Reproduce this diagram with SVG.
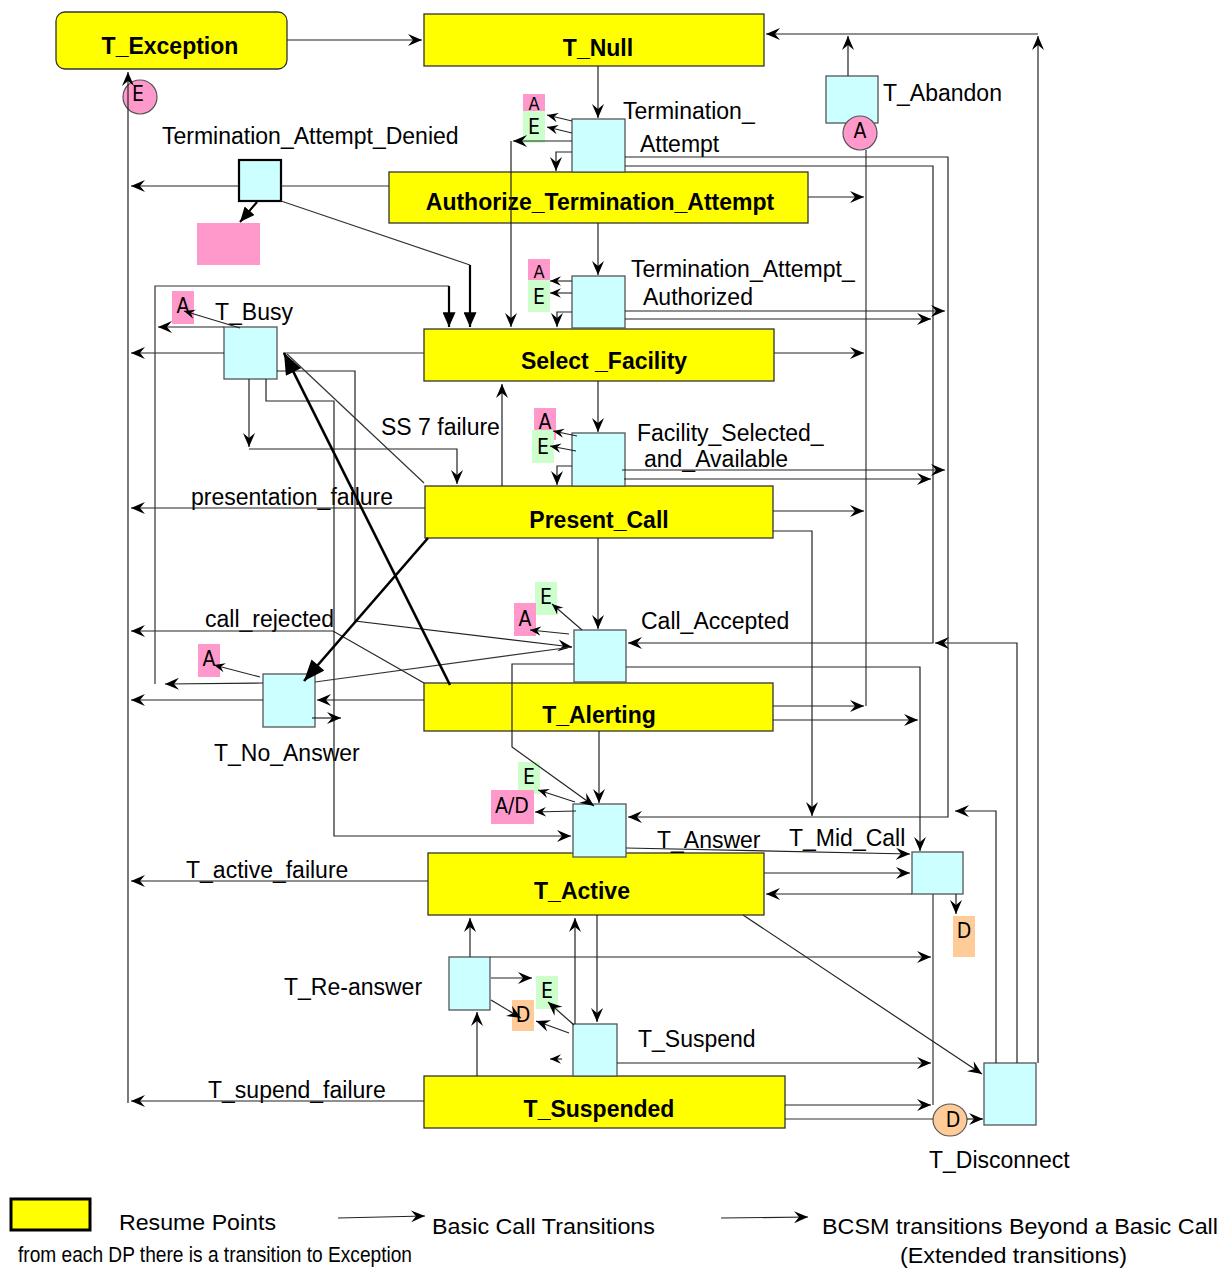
<svg xmlns="http://www.w3.org/2000/svg" width="1221" height="1268" viewBox="0 0 1221 1268">
<defs>
<marker id="ah" viewBox="0 0 14 14" refX="14" refY="7" markerWidth="14" markerHeight="14" markerUnits="userSpaceOnUse" orient="auto"><path d="M0,1 L14,7 L0,13 L5,7 z" fill="#000"/></marker>
<marker id="sm" viewBox="0 0 14 14" refX="14" refY="7" markerWidth="11" markerHeight="11" markerUnits="userSpaceOnUse" orient="auto"><path d="M0,1 L14,7 L0,13 L5,7 z" fill="#000"/></marker>
<marker id="big" viewBox="0 0 20 16" refX="20" refY="8" markerWidth="22" markerHeight="17" markerUnits="userSpaceOnUse" orient="auto"><path d="M0,0 L20,8 L0,16 z" fill="#000"/></marker>
<marker id="mid" viewBox="0 0 16 14" refX="16" refY="7" markerWidth="15" markerHeight="13" markerUnits="userSpaceOnUse" orient="auto"><path d="M0,0 L16,7 L0,14 z" fill="#000"/></marker>
</defs>
<style>
.y{fill:#FFFF00;stroke:#333;stroke-width:1.3}
.dp{fill:#CCFFFF;stroke:#555;stroke-width:1.3}
.pk{fill:#FF99CC}
.gr{fill:#CCFFCC}
.or{fill:#FFCC99}
.c{fill:none;stroke:#222;stroke-width:1.2;marker-end:url(#ah)}
.s{fill:none;stroke:#222;stroke-width:1.1;marker-end:url(#sm)}
.p{fill:none;stroke:#333;stroke-width:1.2}
.t{fill:none;stroke:#000;stroke-width:2.6;marker-end:url(#big)}
.tm{fill:none;stroke:#000;stroke-width:2.2;marker-end:url(#mid)}
.lbl{font-family:"Liberation Sans",Arial,sans-serif;font-size:23px;fill:#000}
.ttl{font-family:"Liberation Sans",Arial,sans-serif;font-size:23px;font-weight:bold;fill:#000;text-anchor:middle}
.tag{font-family:"Liberation Sans Narrow","DejaVu Sans Condensed","DejaVu Sans",sans-serif;font-stretch:condensed;font-size:21px;fill:#000;text-anchor:middle}
.tgs{font-family:"Liberation Sans Narrow","DejaVu Sans Condensed","DejaVu Sans",sans-serif;font-stretch:condensed;font-size:18px;fill:#000;text-anchor:middle}
.leg{font-family:"Liberation Sans Narrow","Liberation Sans",Arial,sans-serif;font-size:22px;fill:#000}
</style>
<rect width="1221" height="1268" fill="#fff"/>

<g id="nodes">
<g id="T_Exception"><rect class="y" x="56" y="12" width="231" height="57" rx="9"/><text class="ttl" x="170" y="54">T_Exception</text></g>
<g id="T_Null"><rect class="y" x="424" y="14" width="340" height="52"/><text class="ttl" x="598" y="56">T_Null</text></g>
<g id="Authorize_Termination_Attempt"><rect class="y" x="389" y="172" width="419" height="51"/><text class="ttl" x="600" y="210">Authorize_Termination_Attempt</text></g>
<g id="Select_Facility"><rect class="y" x="424" y="329" width="350" height="52"/><text class="ttl" x="604" y="369">Select _Facility</text></g>
<g id="Present_Call"><rect class="y" x="425" y="486" width="348" height="52"/><text class="ttl" x="599" y="528">Present_Call</text></g>
<g id="T_Alerting"><rect class="y" x="424" y="683" width="349" height="48"/><text class="ttl" x="599" y="723">T_Alerting</text></g>
<g id="T_Active"><rect class="y" x="428" y="853" width="336" height="62"/><text class="ttl" x="582" y="899">T_Active</text></g>
<g id="T_Suspended"><rect class="y" x="424" y="1076" width="361" height="52"/><text class="ttl" x="599" y="1117">T_Suspended</text></g>

<g id="dp_Termination_Attempt"><rect class="dp" x="572" y="119" width="53" height="53"/><text class="lbl" x="623" y="119">Termination_</text><text class="lbl" x="640" y="152">Attempt</text></g>
<g id="dp_T_Abandon"><rect class="dp" x="826" y="76" width="52" height="47"/><text class="lbl" x="883" y="101">T_Abandon</text></g>
<g id="dp_Termination_Attempt_Denied"><rect x="239" y="160" width="42" height="41" fill="#CCFFFF" stroke="#000" stroke-width="2.2"/><text class="lbl" x="162" y="144">Termination_Attempt_Denied</text></g>
<g id="denied_target"><rect class="pk" x="197" y="223" width="63" height="42"/></g>
<g id="dp_Termination_Attempt_Authorized"><rect class="dp" x="572" y="276" width="53" height="52"/><text class="lbl" x="631" y="277">Termination_Attempt_</text><text class="lbl" x="643" y="305">Authorized</text></g>
<g id="dp_T_Busy"><rect class="dp" x="224" y="327" width="53" height="52"/><text class="lbl" x="215" y="320">T_Busy</text></g>
<g id="dp_Facility_Selected"><rect class="dp" x="572" y="433" width="53" height="53"/><text class="lbl" x="637" y="441">Facility_Selected_</text><text class="lbl" x="644" y="467">and_Available</text></g>
<g id="dp_Call_Accepted"><rect class="dp" x="574" y="630" width="52" height="52"/><text class="lbl" x="641" y="629">Call_Accepted</text></g>
<g id="dp_T_No_Answer"><rect class="dp" x="263" y="674" width="52" height="53"/><text class="lbl" x="214" y="761">T_No_Answer</text></g>
<g id="dp_T_Answer"><rect class="dp" x="573" y="804" width="53" height="53"/><text class="lbl" x="657" y="848">T_Answer</text></g>
<g id="dp_T_Mid_Call"><rect class="dp" x="912" y="852" width="51" height="42"/><text class="lbl" x="789" y="846">T_Mid_Call</text></g>
<g id="dp_T_Re-answer"><rect class="dp" x="449" y="957" width="41" height="53"/><text class="lbl" x="284" y="995">T_Re-answer</text></g>
<g id="dp_T_Suspend"><rect class="dp" x="573" y="1024" width="44" height="52"/><text class="lbl" x="638" y="1047">T_Suspend</text></g>
<g id="dp_T_Disconnect"><rect class="dp" x="984" y="1063" width="52" height="62"/><text class="lbl" x="929" y="1168">T_Disconnect</text></g>

<g id="tags">
<circle cx="140" cy="97" r="17" fill="#FF99CC" stroke="#555" stroke-width="1.2"/><text class="tag" x="138" y="101">E</text>
<circle cx="860" cy="133" r="17" fill="#FF99CC" stroke="#555" stroke-width="1.2"/><text class="tag" x="860" y="138">A</text>
<ellipse cx="950" cy="1120" rx="17" ry="16" fill="#FFCC99" stroke="#555" stroke-width="1.2"/><text class="tag" x="953" y="1127">D</text>
<rect class="pk" x="523" y="94" width="22" height="32"/><text class="tgs" x="534" y="110">A</text>
<rect class="gr" x="523" y="111" width="22" height="32"/><text class="tag" x="534" y="134">E</text>
<rect class="pk" x="528" y="259" width="22" height="32"/><text class="tgs" x="539" y="278">A</text>
<rect class="gr" x="528" y="280" width="22" height="32"/><text class="tag" x="539" y="304">E</text>
<rect class="pk" x="534" y="408" width="22" height="32"/><text class="tag" x="545" y="429">A</text>
<rect class="gr" x="532" y="430" width="22" height="33"/><text class="tag" x="543" y="454">E</text>
<rect class="gr" x="535" y="582" width="22" height="33"/><text class="tag" x="546" y="604">E</text>
<rect class="pk" x="514" y="603" width="22" height="33"/><text class="tag" x="525" y="626">A</text>
<rect class="pk" x="172" y="291" width="22" height="33"/><text class="tag" x="183" y="313">A</text>
<rect class="pk" x="198" y="644" width="22" height="33"/><text class="tag" x="209" y="666">A</text>
<rect class="gr" x="518" y="762" width="22" height="32"/><text class="tag" x="529" y="784">E</text>
<rect class="pk" x="491" y="790" width="43" height="34"/><text class="tag" x="512" y="813">A/D</text>
<rect class="gr" x="536" y="976" width="22" height="33"/><text class="tag" x="547" y="998">E</text>
<rect class="or" x="512" y="1000" width="22" height="31"/><text class="tag" x="523" y="1022">D</text>
<rect class="or" x="953" y="916" width="22" height="41"/><text class="tag" x="964" y="938">D</text>
</g>

<g id="edge_labels">
<text class="lbl" x="381" y="435">SS 7 failure</text>
<text class="lbl" x="191" y="505">presentation_failure</text>
<text class="lbl" x="205" y="627">call_rejected</text>
<text class="lbl" x="186" y="878">T_active_failure</text>
<text class="lbl" x="208" y="1098">T_supend_failure</text>
</g>
</g>

<g id="connectors">
<path class="c" d="M287,40 H422"/>
<path class="c" d="M1038,1063 V36"/>
<path class="c" d="M1038,34 H766"/>
<path class="c" d="M848,76 V36"/>
<path class="c" d="M598,66 V118"/>
<path class="s" d="M572,121 L547,115"/>
<path class="s" d="M572,133 L547,127"/>
<path class="c" d="M572,141 H513"/>
<path class="c" d="M511,141 V327"/>
<path class="c" d="M572,152 H556 V171"/>
<path class="c" d="M625,157 H948 V817 H628"/>
<path class="c" d="M625,166 H933 V643 H628"/>
<path class="c" d="M1017,1063 V643 H935"/>
<path class="c" d="M996,1063 V811 H955"/>
<path class="c" d="M808,197 H864"/>
<path class="p" d="M866,150 V706"/>
<path class="c" d="M774,353 H864"/>
<path class="c" d="M773,511 H864"/>
<path class="c" d="M773,706 H864"/>
<path class="c" d="M773,720 H918"/>
<path class="c" d="M598,223 V275"/>
<path class="s" d="M572,281 H550"/>
<path class="s" d="M572,293 H550"/>
<path class="c" d="M572,312 H557 V327"/>
<path class="c" d="M625,311 H945"/>
<path class="c" d="M625,319 H931"/>
<path class="p" d="M389,186 H281"/>
<path class="c" d="M239,186 H131"/>
<path class="c" d="M598,381 V432"/>
<path class="s" d="M577,436 L553,431"/>
<path class="s" d="M576,451 L550,446"/>
<path class="c" d="M572,466 H557 V485"/>
<path class="c" d="M622,470 H945"/>
<path class="c" d="M624,479 H931"/>
<path class="c" d="M502,486 V384"/>
<path class="c" d="M598,538 V629"/>
<path class="s" d="M582,630 L552,604"/>
<path class="s" d="M569,634 L530,630"/>
<path class="c" d="M574,664 H512 V747 L594,806"/>
<path class="c" d="M626,667 H920 V851"/>
<path class="c" d="M599,731 V803"/>
<path class="s" d="M575,802 L538,790"/>
<path class="s" d="M576,811 L535,812"/>
<path class="c" d="M626,848 L910,854"/>
<path class="c" d="M764,873 H910"/>
<path class="c" d="M912,894 H766"/>
<path class="c" d="M956,894 V914"/>
<path class="p" d="M933,894 V1105"/>
<path class="c" d="M773,531 H812 V816"/>
<path class="c" d="M743,915 L982,1074"/>
<path class="c" d="M470,957 V918"/>
<path class="c" d="M490,957 H931"/>
<path class="c" d="M477,1076 V1012"/>
<path class="c" d="M491,978 H532"/>
<path class="c" d="M491,1000 L521,1018"/>
<path class="c" d="M574,1025 L548,1002"/>
<path class="c" d="M569,1033 L536,1021"/>
<path class="c" d="M575,1024 V918"/>
<path class="c" d="M597,915 V1022"/>
<path class="c" d="M617,1063 H931"/>
<path class="c" d="M785,1105 H931"/>
<path class="p" d="M785,1119 H933"/>
<path class="c" d="M967,1119 H983"/>
<path class="s" d="M562,1059 H550"/>
<path class="c" d="M128,1103 V72"/>
<path class="c" d="M224,353 H131"/>
<path class="c" d="M425,508 H131"/>
<path class="c" d="M424,683 L333,631 H131"/>
<path class="c" d="M263,700 H131"/>
<path class="c" d="M428,881 H131"/>
<path class="c" d="M424,1101 H131"/>
<path class="s" d="M240,328 L184,311"/>
<path class="c" d="M224,327 H158"/>
<path class="c" d="M249,379 V447"/>
<path class="c" d="M249,449 H457 V484"/>
<path class="c" d="M266,379 V401 H334 V836 H571"/>
<path class="c" d="M277,371 H355 V621 L572,647"/>
<path class="p" d="M315,682 L572,647"/>
<path class="p" d="M424,353 H283"/>
<path class="p" d="M287,354 L424,483"/>
<path class="s" d="M260,677 L214,665"/>
<path class="c" d="M263,683 L165,684"/>
<path class="p" d="M155,684 V286 H449"/>
<path class="c" d="M424,700 H317"/>
<path class="c" d="M312,718 H341"/>
<path class="tm" d="M449,286 V327"/>
<path class="p" d="M281,201 L470,265"/>
<path class="tm" d="M470,265 V327"/>
<path class="tm" d="M257,202 L240,222"/>
<path class="t" d="M450,685 L284,353"/>
<path class="t" d="M428,538 L304,681"/>
</g>

<g id="legend">
<rect x="11" y="1199" width="79" height="31" fill="#FFFF00" stroke="#000" stroke-width="3"/>
<text class="leg" x="119" y="1230" textLength="157" lengthAdjust="spacingAndGlyphs">Resume Points</text>
<path class="c" d="M338,1218 L425,1216"/>
<text class="leg" x="432" y="1234" textLength="223" lengthAdjust="spacingAndGlyphs">Basic Call Transitions</text>
<path class="c" d="M721,1218 L808,1217"/>
<text class="leg" x="822" y="1234" textLength="396" lengthAdjust="spacingAndGlyphs">BCSM transitions Beyond a Basic Call</text>
<text class="leg" x="900" y="1263" textLength="227" lengthAdjust="spacingAndGlyphs">(Extended transitions)</text>
<text class="leg" x="18" y="1262" font-size="20" textLength="394" lengthAdjust="spacingAndGlyphs">from each DP there is a transition to Exception</text>
</g>
</svg>
